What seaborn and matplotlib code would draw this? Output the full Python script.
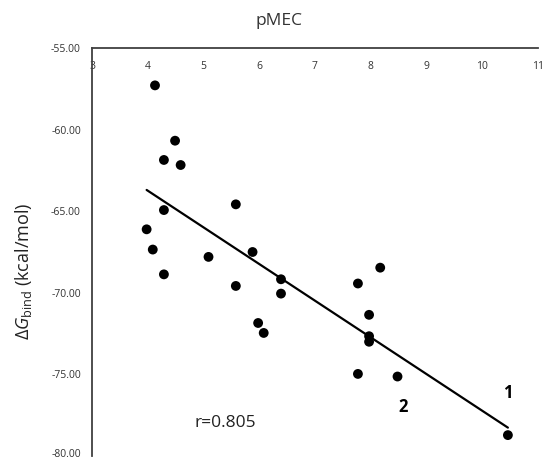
import numpy as np
import pandas as pd
import matplotlib
matplotlib.use("Agg")
import matplotlib.pyplot as plt
import matplotlib.transforms as mtransforms
import seaborn as sns

pmec = [4.13, 4.49, 4.29, 4.59, 5.58, 4.29, 3.98, 4.09, 5.09, 5.88, 4.29, 5.58,
        6.39, 6.39, 8.17, 7.77, 7.97, 7.97, 7.97, 5.98, 6.08, 7.77, 8.48, 10.46]
dg_bind = [-57.29, -60.68, -61.86, -62.17, -64.58, -64.93, -66.11, -67.35, -67.80,
           -67.50, -68.87, -69.58, -69.17, -70.05, -68.46, -69.43, -71.35, -72.66,
           -73.00, -71.85, -72.46, -74.97, -75.13, -78.72]
x_ticks = [3, 4, 5, 6, 7, 8, 9, 10, 11]
y_ticks = [-55, -60, -65, -70, -75, -80]
point_labels = ["1", "2"]
label_pos = [(10.45, -76.15), (8.58, -77.0)]

df = pd.DataFrame({"pMEC": pmec, "dG": dg_bind})

sns.set_theme(style="white")
plt.rcParams["font.family"] = ["Open Sans", "DejaVu Sans"]
plt.rcParams["mathtext.fontset"] = "custom"
plt.rcParams["mathtext.rm"] = "Open Sans"
plt.rcParams["mathtext.it"] = "Open Sans:italic"

fig = plt.figure(figsize=(5.44, 4.61), dpi=100)
ax = fig.add_axes([92 / 544, 1 - 456 / 461, 446 / 544, (456 - 48) / 461])

sns.regplot(data=df, x="pMEC", y="dG", ax=ax, ci=None, truncate=True,
            scatter_kws=dict(s=50, color="black", edgecolor="none", alpha=1, zorder=3),
            line_kws=dict(color="black", lw=1.6))

ax.set_xlim(3, 11)
ax.set_ylim(-80, -55)
ax.set_xticks(x_ticks)
ax.set_xticklabels([str(t) for t in x_ticks])
ax.set_yticks(y_ticks)
ax.set_yticklabels([f"{t:.2f}" for t in y_ticks])

for s in ["right", "bottom"]:
    ax.spines[s].set_visible(False)
for s in ["left", "top"]:
    ax.spines[s].set_color("#404040")
    ax.spines[s].set_linewidth(1.3)

ax.tick_params(axis="x", top=True, labeltop=True, bottom=False, labelbottom=False,
               length=0, pad=-17, labelsize=7.5)
ax.tick_params(axis="y", left=True, length=0, pad=8, labelsize=7.5)
for lab in ax.get_xticklabels() + ax.get_yticklabels():
    lab.set_color("#333333")

# nudge the lowest y tick label up slightly so it stays inside the figure
low = ax.get_yticklabels()[-1]
low.set_transform(low.get_transform() +
                  mtransforms.ScaledTranslation(0, 2 / 72, fig.dpi_scale_trans))

ax.set_xlabel("")
ax.set_ylabel("")
fig.text(279 / 544, 1 - 21 / 461, "pMEC", ha="center", va="center", fontsize=12.5, color="#333333")
fig.text(23 / 544, 1 - 271 / 461, r"$\Delta \mathit{G}_{\mathrm{bind}}$ (kcal/mol)", rotation=90,
         ha="center", va="center", fontsize=13, color="#222222")

r = np.corrcoef(pmec, dg_bind)[0, 1]
ax.text(5.4, -77.97, f"r={abs(r):.3f}", fontsize=12.5, ha="center", va="center", color="#222222")
for lab, (lx, ly) in zip(point_labels, label_pos):
    ax.text(lx, ly, lab, fontsize=12, fontweight="bold", ha="center", va="center", color="black")

fig.savefig("out.png", dpi=100)
